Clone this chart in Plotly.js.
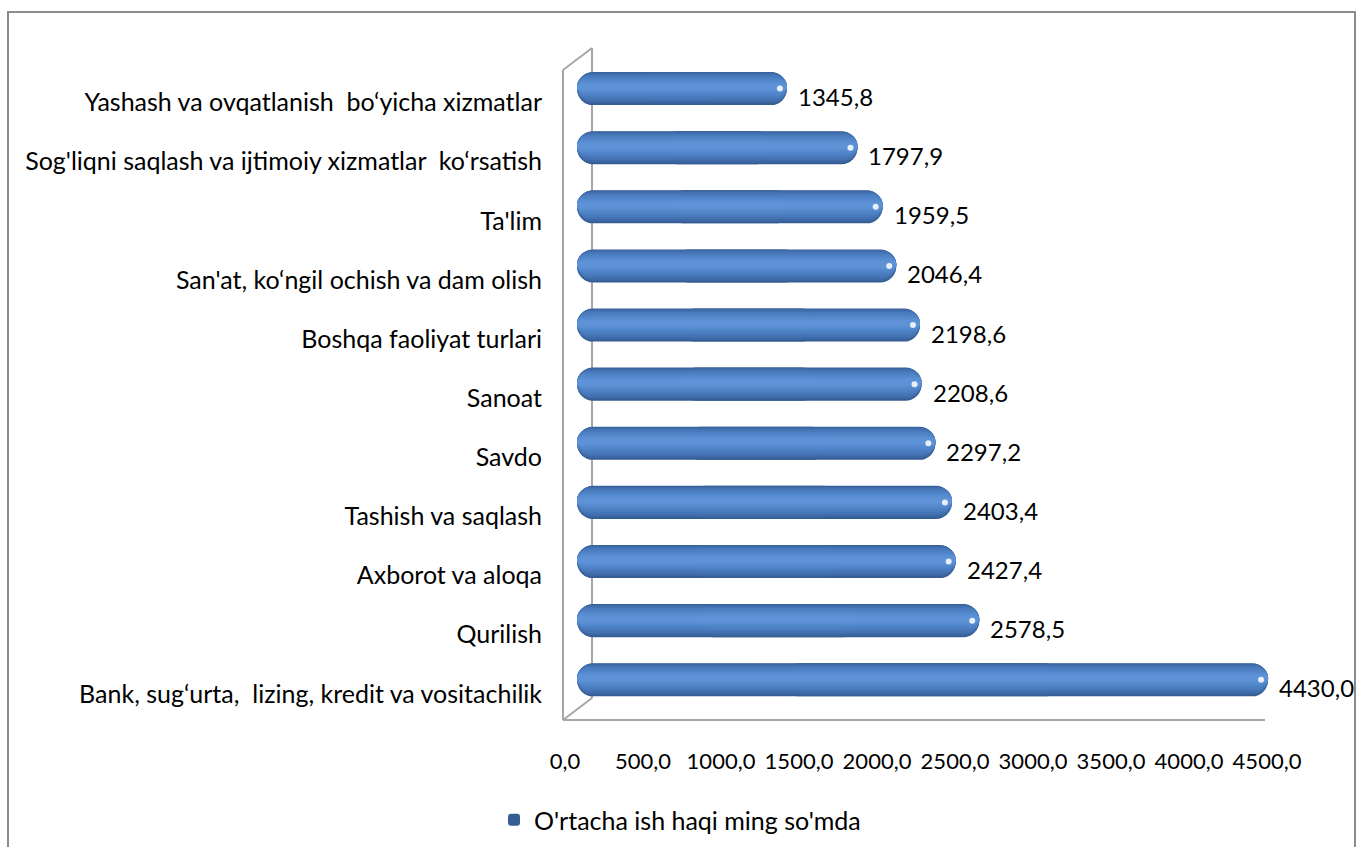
<!DOCTYPE html>
<html>
<head>
<meta charset="utf-8">
<script src="https://cdn.plot.ly/plotly-3.0.1.min.js"></script>
<style>html,body{margin:0;padding:0;background:#fff;}#chart{width:1357px;height:847px;}</style>
</head>
<body>
<div id="chart"></div>
<script>
// Data (bottom to top)
const categories = [
  "Bank, sug\u2018urta,  lizing, kredit va vositachilik",
  "Qurilish",
  "Axborot va aloqa",
  "Tashish va saqlash",
  "Savdo",
  "Sanoat",
  "Boshqa faoliyat turlari",
  "San'at, ko\u2018ngil ochish va dam olish",
  "Ta'lim",
  "Sog'liqni saqlash va ijtimoiy xizmatlar  ko\u2018rsatish",
  "Yashash va ovqatlanish  bo\u2018yicha xizmatlar"
];
const values = [4430.0, 2578.5, 2427.4, 2403.4, 2297.2, 2208.6, 2198.6, 2046.4, 1959.5, 1797.9, 1345.8];
const seriesName = "O'rtacha ish haqi ming so'mda";
const tickValues = [0, 500, 1000, 1500, 2000, 2500, 3000, 3500, 4000, 4500];

const FONT = "Lato, 'Liberation Sans', sans-serif";
const W = 1357, H = 847;
const L = 577, R = 1279, T = 59, B = 720;
const pw = R - L, ph = B - T;
const px = x => (x - L) / pw;
const py = y => (B - y) / ph;

const fmt = v => v.toFixed(1).replace('.', ',');

// cylinder look: stacked pill layers (outer dark -> inner light)
const layers = [
  {w:0.56, s:0.000, c:'#355d93'},
  {w:0.52, s:0.010, c:'#3d68a4'},
  {w:0.46, s:0.018, c:'#4372b2'},
  {w:0.39, s:0.024, c:'#497abc'},
  {w:0.32, s:0.028, c:'#4e81c4'},
  {w:0.25, s:0.030, c:'#5387cb'},
  {w:0.18, s:0.030, c:'#588dd1'},
  {w:0.11, s:0.030, c:'#5d92d7'}
];
// each pill = two overlapping pieces, so both outer ends get the rounded cap
const rightBase = values.map(v => v * 0.3);
const rightLen = values.map(v => v * 0.7);
const leftBase = values.map(v => v * 0.7);
const leftLen = values.map(v => -v * 0.7);

const traces = [];
layers.forEach((ly, k) => {
  const common = {type:'bar', orientation:'h', y:categories, width:ly.w,
                  offset:-ly.w / 2 + ly.s, marker:{color:ly.c, cornerradius:'50%'}, hoverinfo:'skip'};
  traces.push(Object.assign({}, common, {base:rightBase, x:rightLen, name:seriesName, showlegend:k === 0, legendgroup:'s'}));
  traces.push(Object.assign({}, common, {base:leftBase, x:leftLen, showlegend:false, legendgroup:'s'}));
});
traces.push({type:'scatter', mode:'markers', y:categories, x:values.map(v => v - 45),
   marker:{symbol:'circle', size:6, color:'rgba(255,255,255,0.85)'}, showlegend:false, hoverinfo:'skip'});

const wall = '#a6a6a6';
const shapes = [
  {type:'rect', xref:'paper', yref:'paper', x0:px(8), x1:px(1355), y0:py(860), y1:py(12), line:{color:'#8c8c8c', width:2}, fillcolor:'rgba(0,0,0,0)', layer:'below'},
  {type:'line', xref:'paper', yref:'paper', x0:px(563), x1:px(563), y0:py(70), y1:py(720), line:{color:wall, width:2}},
  {type:'line', xref:'paper', yref:'paper', x0:px(592), x1:px(592), y0:py(48), y1:py(698), line:{color:wall, width:2}, layer:'below'},
  {type:'line', xref:'paper', yref:'paper', x0:px(563), x1:px(592), y0:py(70), y1:py(48), line:{color:wall, width:2}},
  {type:'line', xref:'paper', yref:'paper', x0:px(563), x1:px(592), y0:py(720), y1:py(698), line:{color:wall, width:2}, layer:'below'},
  {type:'line', xref:'paper', yref:'paper', x0:px(563), x1:px(1265), y0:py(720), y1:py(720), line:{color:wall, width:2}}
];

const annotations = values.map((v, i) => ({
  x: v, y: categories[i], xref:'x', yref:'y', text: fmt(v), showarrow:false,
  xanchor:'left', yanchor:'middle', xshift: 9, yshift: -8,
  font:{family:FONT, size:24, color:'#000'}
}));

const layout = {
  width: W, height: H,
  margin: {l: L, r: W - R, t: T, b: H - B, pad: 0, autoexpand:false},
  paper_bgcolor:'#fff', plot_bgcolor:'rgba(0,0,0,0)',
  separators: ',.',
  barmode: 'overlay',
  font: {family: FONT, size: 23, color: '#000'},
  xaxis: {range:[0, 4500], tickvals: tickValues, tickformat: '.1f', showgrid:false, zeroline:false,
          showline:false, ticks:'', ticklabelshift:-12, ticklabelstandoff:26, automargin:false,
          tickfont:{family:FONT, size:22, color:'#000'}, fixedrange:true},
  yaxis: {type:'category', categoryorder:'array', categoryarray: categories, range:[-0.68, 10.5],
          showgrid:false, zeroline:false, showline:false, ticks:'', ticklabelshift:14, ticklabelstandoff:34,
          automargin:false, tickfont:{family:FONT, size:25, color:'#000'}, fixedrange:true},
  showlegend: true,
  legend: {orientation:'h', x: px(494), y: py(820), xanchor:'left', yanchor:'middle',
           font:{family:FONT, size:25, color:'#000'}, bgcolor:'rgba(0,0,0,0)'},
  shapes: shapes,
  annotations: annotations
};

Plotly.newPlot('chart', traces, layout, {displayModeBar:false, staticPlot:true});
</script>
</body>
</html>
